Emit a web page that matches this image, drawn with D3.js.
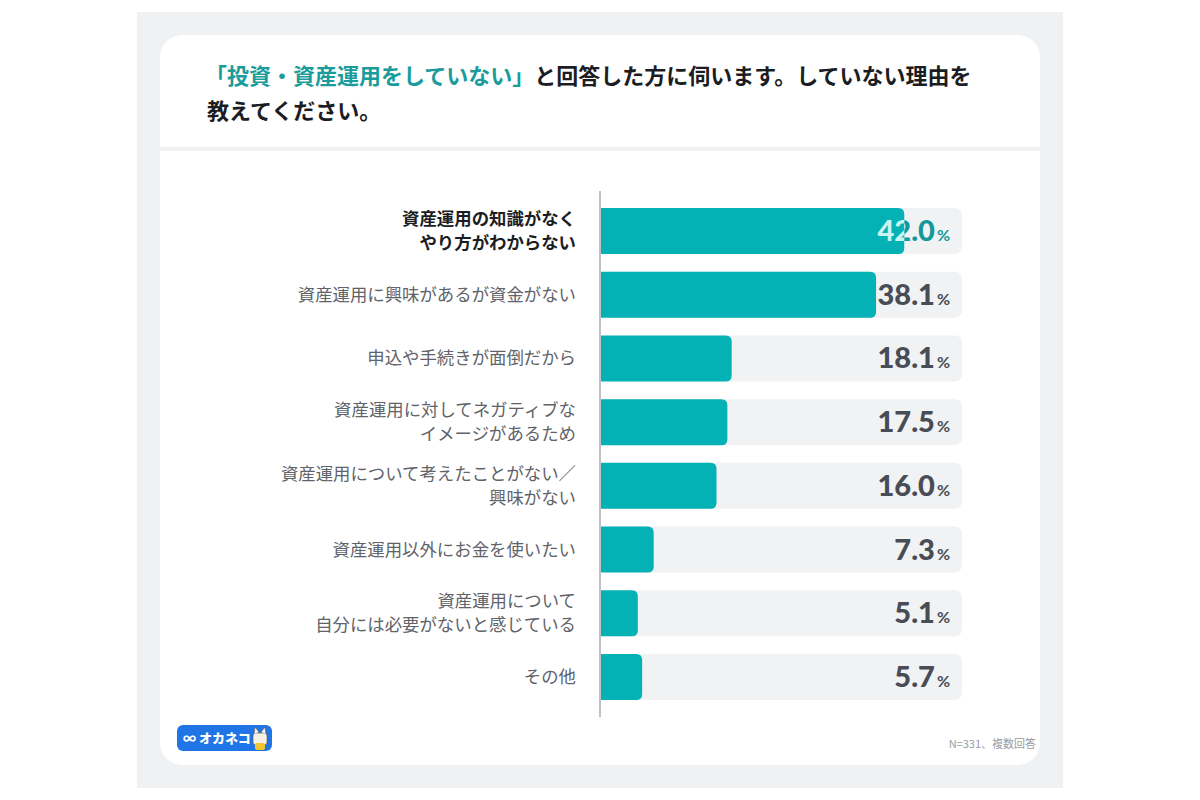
<!DOCTYPE html>
<html><head><meta charset="utf-8">
<script src="https://cdn.jsdelivr.net/npm/d3@7"></script>
<style>html,body{margin:0;padding:0;background:#fff;}svg{display:block;}</style>
</head><body>
<svg id="chart" width="1200" height="800"></svg>
<script>
const categories = [
  ["資産運用の知識がなく","やり方がわからない"],
  ["資産運用に興味があるが資金がない"],
  ["申込や手続きが面倒だから"],
  ["資産運用に対してネガティブな","イメージがあるため"],
  ["資産運用について考えたことがない／","興味がない"],
  ["資産運用以外にお金を使いたい"],
  ["資産運用について","自分には必要がないと感じている"],
  ["その他"]
];
const values = [42.0, 38.1, 18.1, 17.5, 16.0, 7.3, 5.1, 5.7];
const titleHighlight = "「投資・資産運用をしていない」";
const titleRest1 = "と回答した方に伺います。していない理由を";
const titleLine2 = "教えてください。";
const footnote = "N=331、複数回答";
const xMax = 50;

const svg = d3.select("#chart");
const JP = "'Noto Sans CJK JP','Noto Sans',sans-serif";
const NUM = "Lato,'Noto Sans',sans-serif";

// background
svg.append("rect").attr("x",137).attr("y",12).attr("width",926).attr("height",776).attr("fill","#f0f1f3");
svg.append("rect").attr("x",160).attr("y",35).attr("width",880).attr("height",730).attr("rx",22).attr("fill","#fff");
svg.append("rect").attr("x",160).attr("y",147).attr("width",880).attr("height",4).attr("fill","#f0f1f3");

// title
const t1 = svg.append("text").attr("x",205).attr("y",84).attr("font-family",JP).attr("font-size",22).attr("font-weight",700);
t1.append("tspan").attr("fill","#1a9c9c").text(titleHighlight);
t1.append("tspan").attr("fill","#1b1d22").text(titleRest1);
svg.append("text").attr("x",207).attr("y",119).attr("font-family",JP).attr("font-size",22).attr("font-weight",700).attr("fill","#1b1d22").text(titleLine2);

// scales
const y = d3.scaleBand().domain(d3.range(categories.length)).range([208,700]).paddingInner(0.278).paddingOuter(0);
const x = d3.scaleLinear().domain([0,xMax]).range([601,962]);
const bh = y.bandwidth();

// tracks
svg.selectAll("rect.track").data(values).join("rect").attr("class","track")
  .attr("x",x(0)).attr("y",(d,i)=>y(i)).attr("width",x(xMax)-x(0)).attr("height",bh).attr("rx",7).attr("fill","#f1f2f4");

// bars with rounded right corners
function barPath(x0,x1,y0,h,r){
  r=Math.min(r,(x1-x0));
  return `M${x0},${y0}H${x1-r}Q${x1},${y0} ${x1},${y0+r}V${y0+h-r}Q${x1},${y0+h} ${x1-r},${y0+h}H${x0}Z`;
}
svg.selectAll("path.bar").data(values).join("path").attr("class","bar")
  .attr("d",(d,i)=>barPath(x(0),x(d),y(i),bh,6)).attr("fill","#04b1b5");

// clip for first label
const defs = svg.append("defs");
defs.append("clipPath").attr("id","inBar").append("path").attr("d",barPath(x(0),x(values[0]),y(0),bh,6));
defs.append("clipPath").attr("id","outBar").append("rect").attr("x",x(values[0])).attr("y",y(0)).attr("width",400).attr("height",bh);

function valueLabel(g,d,i,color,pctColor){
  const tx = g.append("text").attr("x",950).attr("y",y(i)+bh/2+10).attr("text-anchor","end")
    .attr("font-family",NUM).attr("font-weight",900).attr("fill",color);
  tx.append("tspan").attr("font-size",29).text(d.toFixed(1));
  tx.append("tspan").attr("font-size",16).attr("font-weight",700).attr("dx",2).attr("fill",pctColor).text("%");
}
values.forEach((d,i)=>{
  if(i===0){
    valueLabel(svg.append("g").attr("clip-path","url(#outBar)"),d,i,"#13999b","#13999b");
    valueLabel(svg.append("g").attr("clip-path","url(#inBar)"),d,i,"#c9f2f1","#c9f2f1");
  } else {
    valueLabel(svg.append("g"),d,i,"#474c55","#474c55");
  }
});

// axis line
svg.append("line").attr("x1",600).attr("x2",600).attr("y1",191).attr("y2",717).attr("stroke","#bfc1c4").attr("stroke-width",2);

// category labels
categories.forEach((lines,i)=>{
  const cy = y(i)+bh/2;
  const lh = 24;
  const t = svg.append("text").attr("text-anchor","end").attr("font-family",JP).attr("font-size",17.4)
    .attr("fill", i===0?"#1b1d22":"#5f636a").attr("font-weight", i===0?700:400);
  lines.forEach((ln,j)=>{
    t.append("tspan").attr("x",576).attr("y",cy - (lines.length-1)*lh/2 + j*lh + 6).text(ln);
  });
});

// logo
const logo = svg.append("g");
logo.append("rect").attr("x",177).attr("y",725).attr("width",95).attr("height",26).attr("rx",6).attr("fill","#1f75e6");
logo.append("text").attr("x",183).attr("y",743).attr("font-family",JP).attr("font-weight",900).attr("font-size",13).attr("fill","#fff").text("∞ オカネコ");
// small cat mark
logo.append("rect").attr("x",253).attr("y",733).attr("width",14).attr("height",12).attr("rx",3).attr("fill","#f7f1e3").attr("stroke","#555").attr("stroke-width",0.6);
logo.append("path").attr("d","M254,734 L255,727 L259,732 M266,734 L265,727 L261,732").attr("fill","#f7f1e3").attr("stroke","#555").attr("stroke-width",0.6);
logo.append("rect").attr("x",255).attr("y",743).attr("width",10).attr("height",7).attr("rx",2).attr("fill","#f2c531");

// footnote
svg.append("text").attr("x",1036).attr("y",748).attr("text-anchor","end").attr("font-family",JP).attr("font-size",11).attr("fill","#9a9da2").text(footnote);
</script>
</body></html>
